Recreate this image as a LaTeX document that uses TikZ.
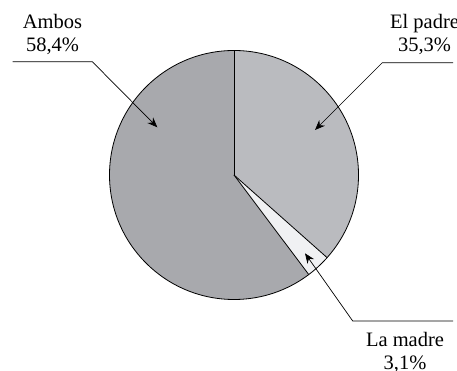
\documentclass[tikz,border=0pt]{standalone}
\usepackage{fontspec}
\setmainfont{Liberation Serif}
\usetikzlibrary{arrows.meta}
\definecolor{ambosc}{RGB}{168,169,173}
\definecolor{padrec}{RGB}{186,187,191}
\definecolor{madrec}{RGB}{240,241,243}
\tikzset{
  slice/.style={draw=black,line width=0.8pt,line join=round},
  leader/.style={draw=black,line width=0.7pt,-{Stealth[length=10pt,width=8pt]}},
  lbl/.style={align=center,inner sep=0pt,font=\fontsize{20.5}{23.5}\selectfont}
}
\begin{document}
\begin{tikzpicture}[x=1pt,y=1pt]
\useasboundingbox (0,0) rectangle (457,371);
\coordinate (c) at (234,196);
\def\R{124.5}
\fill[ambosc] (c) -- ++(90:\R) arc[start angle=90,end angle=306.9,radius=\R] -- cycle;
\fill[padrec] (c) -- ++(90:\R) arc[start angle=90,end angle=-41.6,radius=\R] -- cycle;
\fill[madrec] (c) -- ++(-41.6:\R) arc[start angle=-41.6,end angle=-53.1,radius=\R] -- cycle;
\draw[slice] (c) circle[radius=\R];
\draw[slice] (c) -- ++(90:\R);
\draw[slice] (c) -- ++(-41.6:\R);
\draw[slice] (c) -- ++(-53.1:\R);
% labels
\node[lbl,anchor=north] (ambos) at (52.5,357) {Ambos\\58,4\%};
\node[lbl,anchor=north] (padre) at (424.5,357) {El padre\\35,3\%};
\node[lbl,anchor=north] (madre) at (405,39) {La madre\\3,1\%};
% leaders
\coordinate (a0) at (12.7,309.3);
\coordinate (a1) at (92.3,309.3);
\coordinate (at) at (157.3,243.7);
\coordinate (p0) at (453,308.3);
\coordinate (p1) at (382.3,308.3);
\coordinate (pt) at (315,241);
\coordinate (m0) at (453,50);
\coordinate (m1) at (352.7,50);
\coordinate (mt) at (305,117.7);
\draw[leader] (a0) -- (a1) -- (at);
\draw[leader] (p0) -- (p1) -- (pt);
\draw[leader] (m0) -- (m1) -- (mt);
\end{tikzpicture}
\end{document}
